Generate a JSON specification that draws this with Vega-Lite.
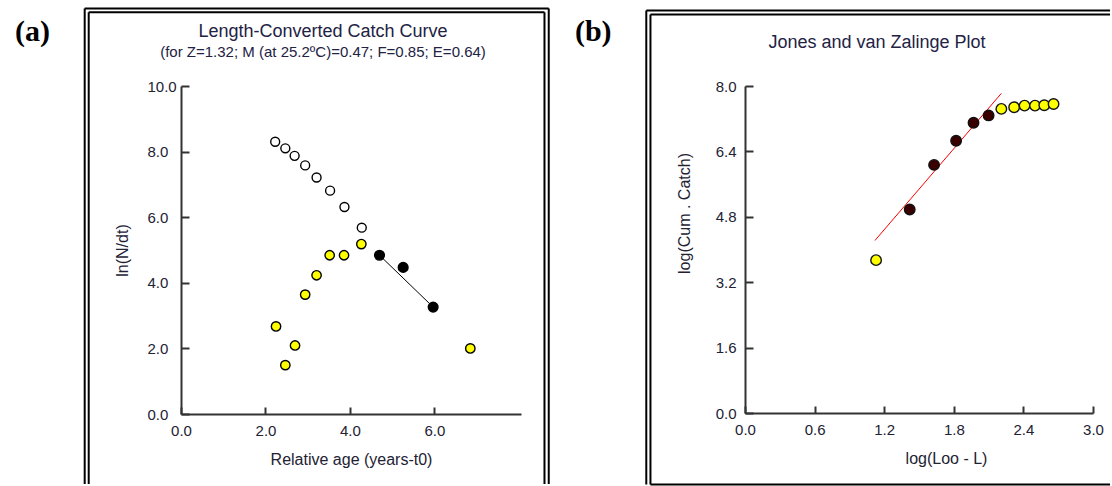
{
  "$schema": "https://vega.github.io/schema/vega-lite/v6.json",
  "background": "white",
  "padding": {"left": 15, "top": 7, "right": 0, "bottom": 0},
  "spacing": 24,
  "resolve": {"scale": {"fill": "independent", "size": "independent"}},
  "config": {
    "view": {"stroke": null},
    "font": "Liberation Sans",
    "axis": {
      "grid": false,
      "domainColor": "#333333",
      "domainWidth": 2,
      "tickColor": "#333333",
      "tickWidth": 2,
      "labelFont": "Liberation Sans",
      "labelFontSize": 15,
      "labelColor": "#222233",
      "labelFlush": false,
      "labelOverlap": false,
      "titleFont": "Liberation Sans",
      "titleFontSize": 16,
      "titleFontWeight": "normal",
      "titleColor": "#222233"
    },
    "title": {"font": "Liberation Sans", "fontWeight": "normal", "color": "#222244", "subtitleColor": "#222244", "subtitleFont": "Liberation Sans"}
  },
  "datasets": {
    "pointsA": [
      {"x": 2.23, "y": 8.30, "group": "open"},
      {"x": 2.47, "y": 8.10, "group": "open"},
      {"x": 2.69, "y": 7.87, "group": "open"},
      {"x": 2.94, "y": 7.58, "group": "open"},
      {"x": 3.21, "y": 7.21, "group": "open"},
      {"x": 3.53, "y": 6.81, "group": "open"},
      {"x": 3.87, "y": 6.31, "group": "open"},
      {"x": 4.28, "y": 5.68, "group": "open"},
      {"x": 2.25, "y": 2.67, "group": "yellow"},
      {"x": 2.47, "y": 1.49, "group": "yellow"},
      {"x": 2.70, "y": 2.09, "group": "yellow"},
      {"x": 2.94, "y": 3.64, "group": "yellow"},
      {"x": 3.21, "y": 4.23, "group": "yellow"},
      {"x": 3.52, "y": 4.84, "group": "yellow"},
      {"x": 3.86, "y": 4.84, "group": "yellow"},
      {"x": 4.27, "y": 5.18, "group": "yellow"},
      {"x": 6.85, "y": 2.00, "group": "yellow"},
      {"x": 4.70, "y": 4.84, "group": "black"},
      {"x": 5.26, "y": 4.47, "group": "black"},
      {"x": 5.97, "y": 3.26, "group": "black"}
    ],
    "lineA": [
      {"x": 4.70, "y": 4.84},
      {"x": 5.97, "y": 3.26}
    ],
    "pointsB": [
      {"x": 1.13, "y": 3.74, "group": "yellow"},
      {"x": 1.42, "y": 4.98, "group": "dark"},
      {"x": 1.63, "y": 6.07, "group": "dark"},
      {"x": 1.82, "y": 6.66, "group": "dark"},
      {"x": 1.97, "y": 7.10, "group": "dark"},
      {"x": 2.10, "y": 7.28, "group": "dark"},
      {"x": 2.21, "y": 7.44, "group": "yellow"},
      {"x": 2.32, "y": 7.48, "group": "yellow"},
      {"x": 2.41, "y": 7.52, "group": "yellow"},
      {"x": 2.50, "y": 7.52, "group": "yellow"},
      {"x": 2.58, "y": 7.53, "group": "yellow"},
      {"x": 2.66, "y": 7.56, "group": "yellow"}
    ],
    "lineB": [
      {"x": 1.12, "y": 4.22},
      {"x": 2.21, "y": 7.82}
    ]
  },
  "hconcat": [
    {
      "width": 340,
      "height": 328,
      "title": {
        "text": "Length-Converted Catch Curve",
        "subtitle": "(for Z=1.32; M (at 25.2ºC)=0.47; F=0.85; E=0.64)",
        "fontSize": 18,
        "subtitleFontSize": 15,
        "subtitlePadding": 4,
        "frame": "group",
        "dx": -28,
        "offset": -53
      },
      "layer": [
        {"data": {"values": [{}]}, "mark": {"type": "rule", "strokeWidth": 2, "color": "#000000"},
         "encoding": {"x": {"datum": -2.280}, "y": {"datum": -2.134}, "y2": {"datum": 12.363}}},
        {"data": {"values": [{}]}, "mark": {"type": "rule", "strokeWidth": 2, "color": "#000000"},
         "encoding": {"x": {"datum": -2.185}, "y": {"datum": -2.134}, "y2": {"datum": 12.250}}},
        {"data": {"values": [{}]}, "mark": {"type": "rule", "strokeWidth": 2, "color": "#000000"},
         "encoding": {"x": {"datum": 8.707}, "y": {"datum": -2.134}, "y2": {"datum": 12.363}}},
        {"data": {"values": [{}]}, "mark": {"type": "rule", "strokeWidth": 2, "color": "#000000"},
         "encoding": {"x": {"datum": 8.606}, "y": {"datum": -2.134}, "y2": {"datum": 12.250}}},
        {"data": {"values": [{}]}, "mark": {"type": "rule", "strokeWidth": 2, "color": "#000000"},
         "encoding": {"x": {"datum": -2.280}, "x2": {"datum": 8.707}, "y": {"datum": 12.363}}},
        {"data": {"values": [{}]}, "mark": {"type": "rule", "strokeWidth": 2, "color": "#000000"},
         "encoding": {"x": {"datum": -2.185}, "x2": {"datum": 8.606}, "y": {"datum": 12.250}}},
        {"data": {"values": [{"label": "(a)"}]},
         "mark": {"type": "text", "font": "Liberation Serif", "fontWeight": "bold", "fontSize": 30, "align": "left", "baseline": "middle", "color": "#000000"},
         "encoding": {"x": {"datum": -3.93}, "y": {"datum": 11.646}, "text": {"field": "label"}}},
        {"data": {"name": "lineA"},
         "mark": {"type": "line", "color": "#000000", "strokeWidth": 1},
         "encoding": {"x": {"field": "x", "type": "quantitative"}, "y": {"field": "y", "type": "quantitative"}}},
        {"data": {"name": "pointsA"},
         "mark": {"type": "point", "shape": "circle", "filled": true, "stroke": "#000000", "strokeWidth": 1.4, "opacity": 1},
         "encoding": {
           "x": {"field": "x", "type": "quantitative",
                 "scale": {"domain": [0, 8.05], "nice": false, "zero": false},
                 "axis": {"title": "Relative age (years-t0)", "values": [0, 2, 4, 6], "format": ".1f", "tickSize": -7, "labelPadding": 16, "titlePadding": 13}},
           "y": {"field": "y", "type": "quantitative",
                 "scale": {"domain": [0, 10], "nice": false, "zero": false},
                 "axis": {"title": "ln(N/dt)", "values": [0, 2, 4, 6, 8, 10], "format": ".1f", "tickSize": -8, "labelPadding": 42, "labelAlign": "left", "titlePadding": 17}},
           "fill": {"field": "group", "type": "nominal", "scale": {"domain": ["open", "yellow", "black"], "range": ["#ffffff", "#ffff00", "#000000"]}, "legend": null},
           "size": {"field": "group", "type": "nominal", "scale": {"domain": ["open", "yellow", "black"], "range": [80, 95, 115]}, "legend": null}
         }}
      ]
    },
    {
      "width": 348,
      "height": 327,
      "title": {
        "text": "Jones and van Zalinge Plot",
        "fontSize": 18,
        "frame": "group",
        "dx": -42,
        "offset": -42
      },
      "layer": [
        {"data": {"values": [{}]}, "mark": {"type": "rule", "strokeWidth": 2, "color": "#000000"},
         "encoding": {"x": {"datum": -0.851}, "y": {"datum": -1.75}, "y2": {"datum": 9.847}}},
        {"data": {"values": [{}]}, "mark": {"type": "rule", "strokeWidth": 2, "color": "#000000"},
         "encoding": {"x": {"datum": -0.815}, "y": {"datum": -1.75}, "y2": {"datum": 9.749}}},
        {"data": {"values": [{}]}, "mark": {"type": "rule", "strokeWidth": 2, "color": "#000000"},
         "encoding": {"x": {"datum": -0.851}, "x2": {"datum": 3.147}, "y": {"datum": 9.847}}},
        {"data": {"values": [{}]}, "mark": {"type": "rule", "strokeWidth": 2, "color": "#000000"},
         "encoding": {"x": {"datum": -0.815}, "x2": {"datum": 3.147}, "y": {"datum": 9.749}}},
        {"data": {"values": [{}]}, "mark": {"type": "rule", "strokeWidth": 2, "color": "#000000"},
         "encoding": {"x": {"datum": -0.815}, "x2": {"datum": 3.147}, "y": {"datum": -1.75}}},
        {"data": {"values": [{"label": "(b)"}]},
         "mark": {"type": "text", "font": "Liberation Serif", "fontWeight": "bold", "fontSize": 30, "align": "left", "baseline": "middle", "color": "#000000"},
         "encoding": {"x": {"datum": -1.466}, "y": {"datum": 9.321}, "text": {"field": "label"}}},
        {"data": {"name": "lineB"},
         "mark": {"type": "line", "color": "#ff0000", "strokeWidth": 1},
         "encoding": {"x": {"field": "x", "type": "quantitative"}, "y": {"field": "y", "type": "quantitative"}}},
        {"data": {"name": "pointsB"},
         "mark": {"type": "point", "shape": "circle", "filled": true, "stroke": "#111111", "strokeWidth": 1.4, "opacity": 1, "size": 110},
         "encoding": {
           "x": {"field": "x", "type": "quantitative",
                 "scale": {"domain": [0, 3], "nice": false, "zero": false},
                 "axis": {"title": "log(Loo - L)", "values": [0, 0.6, 1.2, 1.8, 2.4, 3.0], "format": ".1f", "tickSize": -7, "labelPadding": 16, "titlePadding": 13, "titleX": 201}},
           "y": {"field": "y", "type": "quantitative",
                 "scale": {"domain": [0, 8], "nice": false, "zero": false},
                 "axis": {"title": "log(Cum . Catch)", "values": [0, 1.6, 3.2, 4.8, 6.4, 8.0], "format": ".1f", "tickSize": -8, "labelPadding": 17, "titlePadding": 23, "titleY": 127}},
           "fill": {"field": "group", "type": "nominal", "scale": {"domain": ["yellow", "dark"], "range": ["#ffff00", "#3a0000"]}, "legend": null}
         }}
      ]
    }
  ]
}
